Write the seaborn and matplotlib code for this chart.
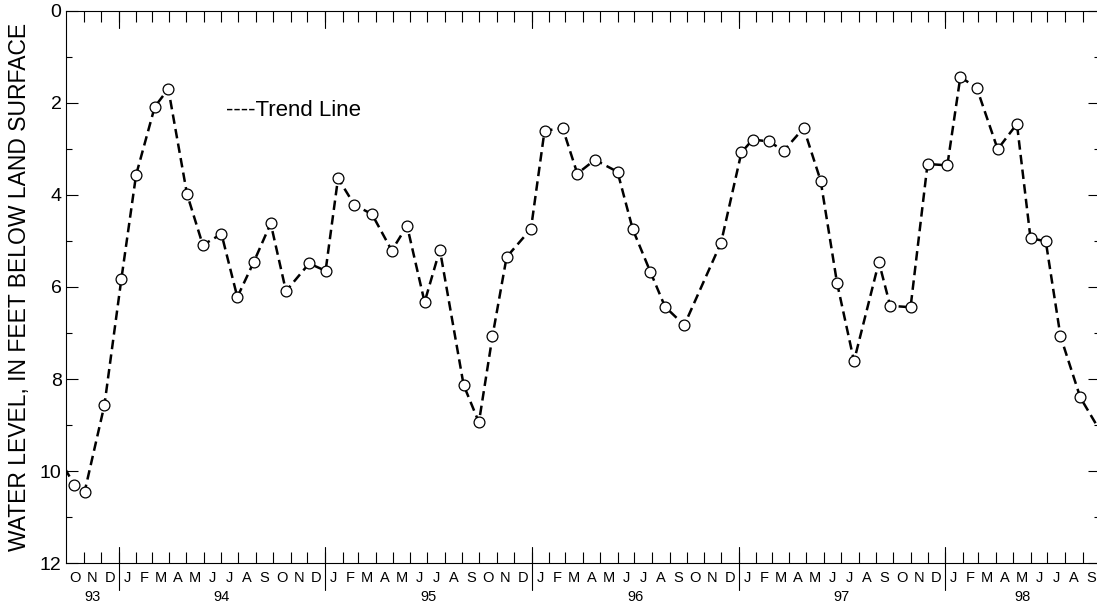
import numpy as np
import pandas as pd
import matplotlib
matplotlib.use("Agg")
import matplotlib.pyplot as plt
import seaborn as sns

# Depth to water, feet below land surface, at each observation date
obs_dates = [
    "1993-09-15", "1993-10-15", "1993-11-02", "1993-12-07",
    "1994-01-06", "1994-02-01", "1994-03-06", "1994-03-30", "1994-05-02",
    "1994-05-30", "1994-07-02", "1994-07-30", "1994-08-28", "1994-09-27",
    "1994-10-24", "1994-12-04",
    "1995-01-02", "1995-01-24", "1995-02-22", "1995-03-25", "1995-04-29",
    "1995-05-26", "1995-06-26", "1995-07-23", "1995-09-03", "1995-09-30",
    "1995-10-24", "1995-11-18", "1995-12-31",
    "1996-01-24", "1996-02-25", "1996-03-22", "1996-04-22", "1996-06-01",
    "1996-06-28", "1996-07-29", "1996-08-24", "1996-09-27", "1996-12-01",
    "1997-01-06", "1997-01-26", "1997-02-23", "1997-03-22", "1997-04-26",
    "1997-05-26", "1997-06-24", "1997-07-24", "1997-09-06", "1997-09-26",
    "1997-11-01", "1997-12-01",
    "1998-01-05", "1998-01-28", "1998-02-26", "1998-04-04", "1998-05-08",
    "1998-06-01", "1998-06-28", "1998-07-24", "1998-08-28", "1998-10-08",
]
water_level = [
    9.66, 10.30, 10.45, 8.57,
    5.83, 3.57, 2.09, 1.70, 3.98,
    5.09, 4.85, 6.22, 5.46, 4.62,
    6.09, 5.49,
    5.65, 3.64, 4.22, 4.42, 5.21,
    4.67, 6.33, 5.19, 8.13, 8.94,
    7.07, 5.35, 4.74,
    2.61, 2.55, 3.54, 3.24, 3.50,
    4.75, 5.67, 6.43, 6.83, 5.04,
    3.08, 2.80, 2.84, 3.04, 2.55,
    3.69, 5.91, 7.61, 5.46, 6.41,
    6.44, 3.33,
    3.36, 1.44, 1.68, 3.01, 2.46,
    4.94, 5.01, 7.07, 8.40, 9.25,
]

month_letters = list("JFMAMJJASOND")
year_labels = ["93", "94", "95", "96", "97", "98"]
y_major = [0, 2, 4, 6, 8, 10, 12]
y_minor = [1, 3, 5, 7, 9, 11]

sns.set_theme(style="white")
plt.rcParams["font.family"] = ["Liberation Sans", "DejaVu Sans"]

df = pd.DataFrame({"date": pd.to_datetime(obs_dates), "level": water_level})

fig = plt.figure(figsize=(10.97, 6.06), dpi=100)
ax = fig.add_axes([0.0606, 0.0705, 0.9417, 0.912])

sns.lineplot(
    data=df, x="date", y="level", ax=ax, color="black",
    linewidth=1.8, linestyle=(0, (3.8, 2.1)),
    marker="o", markersize=7.8, markerfacecolor="white",
    markeredgecolor="black", markeredgewidth=0.9,
)

start = pd.Timestamp("1993-10-01")
end = pd.Timestamp("1998-10-01")

# Month boundaries and mid-month label positions
bounds = pd.date_range(start, end, freq="MS")
mids = bounds[:-1] + (bounds[1:] - bounds[:-1]) / 2
ax.set_xticks(mids)
ax.set_xticklabels([month_letters[d.month - 1] for d in bounds[:-1]])
ax.set_xticks(bounds[1:-1], minor=True)
ax.tick_params(axis="x", which="major", length=0, pad=5.5, labelsize=10.5,
               bottom=True, top=False, labelcolor="black")
ax.tick_params(axis="x", which="minor", direction="in", length=8, width=0.8,
               bottom=True, top=True, color="black")

ax.set_yticks(y_major)
ax.set_yticks(y_minor, minor=True)
ax.tick_params(axis="y", which="major", direction="in", length=8.6, width=0.8,
               left=True, right=True, labelsize=14, color="black",
               labelcolor="black")
ax.tick_params(axis="y", which="minor", direction="in", length=4.3, width=0.8,
               left=True, right=True, color="black")

# Year separators: longer marks crossing the bottom axis, and from the top
axh = 552.6
xt = ax.get_xaxis_transform()
years = pd.date_range("1994-01-01", "1998-01-01", freq="YS")
for d in years:
    ax.plot([d, d], [-27 / axh, 16 / axh], transform=xt, color="black",
            lw=0.8, clip_on=False)
    ax.plot([d, d], [1, 1 - 17 / axh], transform=xt, color="black",
            lw=0.8, clip_on=False)

# Year labels centred under each year's span
edges = [start] + list(years) + [end]
for lab, a, b in zip(year_labels, edges[:-1], edges[1:]):
    ax.text(a + (b - a) / 2, -27 / axh, lab, transform=xt, ha="center",
            va="top", fontsize=10.5, color="black")

ax.set_xlim(start, end)
ax.set_ylim(12, 0)
ax.set_xlabel("")
ax.set_ylabel("")

for sp in ax.spines.values():
    sp.set_color("black")
    sp.set_linewidth(0.8)

ax.text(0.1544, 0.8185, "----Trend Line", transform=ax.transAxes,
        fontsize=16, ha="left", va="center", color="black")

fig.text(20 / 1097, 1 - 287 / 606, "WATER LEVEL, IN FEET BELOW LAND SURFACE",
         rotation=90, ha="center", va="center", fontsize=16.5, color="black")

fig.savefig("out.png", dpi=100, facecolor="white")
